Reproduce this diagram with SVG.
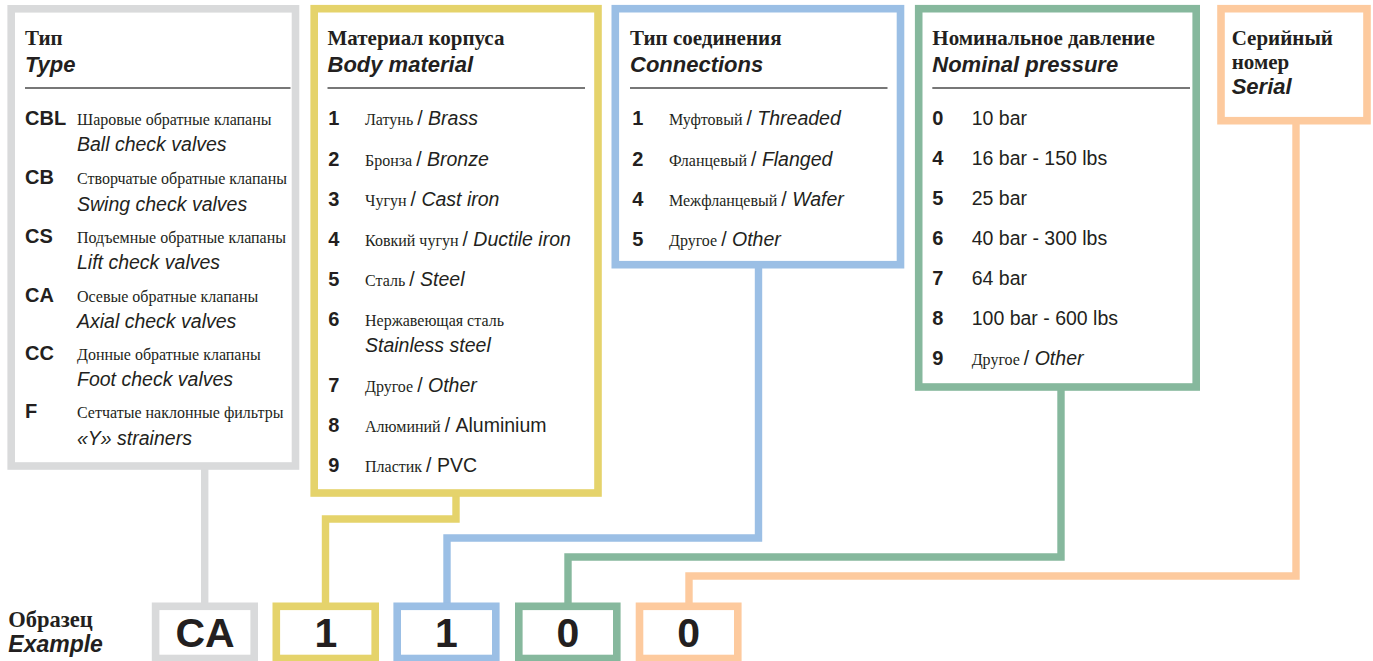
<svg xmlns="http://www.w3.org/2000/svg" width="1373" height="661" viewBox="0 0 1373 661">
<style>
text{fill:#231f20}
.ser{font-family:"Liberation Serif","Times New Roman",serif;font-size:16px}
.sn{font-family:"Liberation Sans",Arial,sans-serif;font-size:19.5px;font-style:normal}
.it{font-family:"Liberation Sans",Arial,sans-serif;font-size:19.5px;font-style:italic}
.code{font-family:"Liberation Sans",Arial,sans-serif;font-size:20px;font-weight:bold}
.h1{font-family:"Liberation Serif","Times New Roman",serif;font-size:21px;font-weight:bold}
.h2{font-family:"Liberation Sans",Arial,sans-serif;font-size:22px;font-weight:bold;font-style:italic}
.big{font-family:"Liberation Sans",Arial,sans-serif;font-size:41px;font-weight:bold;text-anchor:middle}
.box{fill:#fff;stroke-width:7.6}
.rule{stroke:#4a4a4a;stroke-width:1.5}
.con{fill:none;stroke-width:7.4;stroke-linejoin:miter}
.gray{stroke:#d9dadb}
.yel{stroke:#e5d36b}
.blu{stroke:#9bbfe5}
.grn{stroke:#86b89d}
.org{stroke:#fdca9e}
</style>

<g id="connectors">
<path class="con gray" d="M204.7 466V606"/>
<path class="con yel" d="M456 493V519H325.5V606"/>
<path class="con blu" d="M758.5 264.7V538H447V606"/>
<path class="con grn" d="M1061 387V557H568V606"/>
<path class="con org" d="M1296 120.7V576H689V606"/>
</g>

<g id="type">
<rect class="box gray" x="11.2" y="8.8" width="284.3" height="457.2"/>
<text class="h1" x="25" y="45">Тип</text>
<text class="h2" x="25" y="71.5">Type</text>
<line class="rule" x1="25" y1="88" x2="290.5" y2="88"/>
<text class="code" x="25" y="125">CBL</text>
<text class="ser" x="77" y="125">Шаровые обратные клапаны</text>
<text class="it" x="77" y="151">Ball check valves</text>
<text class="code" x="25" y="184">CB</text>
<text class="ser" x="77" y="184">Створчатые обратные клапаны</text>
<text class="it" x="77" y="210.5">Swing check valves</text>
<text class="code" x="25" y="242.7">CS</text>
<text class="ser" x="77" y="242.7">Подъемные обратные клапаны</text>
<text class="it" x="77" y="269.3">Lift check valves</text>
<text class="code" x="25" y="301.5">CA</text>
<text class="ser" x="77" y="301.5">Осевые обратные клапаны</text>
<text class="it" x="77" y="327.5">Axial check valves</text>
<text class="code" x="25" y="359.5">CC</text>
<text class="ser" x="77" y="359.5">Донные обратные клапаны</text>
<text class="it" x="77" y="386">Foot check valves</text>
<text class="code" x="25" y="418.3">F</text>
<text class="ser" x="77" y="418.3">Сетчатые наклонные фильтры</text>
<text class="it" x="77" y="445">«Y» strainers</text>
</g>

<g id="material">
<rect class="box yel" x="314.2" y="8.7" width="283.8" height="484.3"/>
<text class="h1" x="327.5" y="45">Материал корпуса</text>
<text class="h2" x="327.5" y="71.5">Body material</text>
<line class="rule" x1="327.5" y1="88" x2="585" y2="88"/>
<text class="code" x="328.3" y="125">1</text>
<text class="ser" x="365" y="125">Латунь <tspan class="sn">/ </tspan><tspan class="it">Brass</tspan></text>
<text class="code" x="328.3" y="165.5">2</text>
<text class="ser" x="365" y="165.5">Бронза <tspan class="sn">/ </tspan><tspan class="it">Bronze</tspan></text>
<text class="code" x="328.3" y="205.5">3</text>
<text class="ser" x="365" y="205.5">Чугун <tspan class="sn">/ </tspan><tspan class="it">Cast iron</tspan></text>
<text class="code" x="328.3" y="245.5">4</text>
<text class="ser" x="365" y="245.5">Ковкий чугун <tspan class="sn">/ </tspan><tspan class="it">Ductile iron</tspan></text>
<text class="code" x="328.3" y="286">5</text>
<text class="ser" x="365" y="286">Сталь <tspan class="sn">/ </tspan><tspan class="it">Steel</tspan></text>
<text class="code" x="328.3" y="325.5">6</text>
<text class="ser" x="365" y="325.5">Нержавеющая сталь</text>
<text class="it" x="365" y="351.5">Stainless steel</text>
<text class="code" x="328.3" y="391.5">7</text>
<text class="ser" x="365" y="391.5">Другое <tspan class="sn">/ </tspan><tspan class="it">Other</tspan></text>
<text class="code" x="328.3" y="431.5">8</text>
<text class="ser" x="365" y="431.5">Алюминий <tspan class="sn">/ Aluminium</tspan></text>
<text class="code" x="328.3" y="471.5">9</text>
<text class="ser" x="365" y="471.5">Пластик <tspan class="sn">/ PVC</tspan></text>
</g>

<g id="connections">
<rect class="box blu" x="615.3" y="8.7" width="285.2" height="256"/>
<text class="h1" x="630" y="45">Тип соединения</text>
<text class="h2" x="630" y="71.5">Connections</text>
<line class="rule" x1="630" y1="88" x2="887.5" y2="88"/>
<text class="code" x="632.3" y="125">1</text>
<text class="ser" x="669" y="125">Муфтовый <tspan class="sn">/ </tspan><tspan class="it">Threaded</tspan></text>
<text class="code" x="632.3" y="165.5">2</text>
<text class="ser" x="669" y="165.5">Фланцевый <tspan class="sn">/ </tspan><tspan class="it">Flanged</tspan></text>
<text class="code" x="632.3" y="205.5">4</text>
<text class="ser" x="669" y="205.5">Межфланцевый <tspan class="sn">/ </tspan><tspan class="it">Wafer</tspan></text>
<text class="code" x="632.3" y="245.5">5</text>
<text class="ser" x="669" y="245.5">Другое <tspan class="sn">/ </tspan><tspan class="it">Other</tspan></text>
</g>

<g id="pressure">
<rect class="box grn" x="918.7" y="8.7" width="277.5" height="378.3"/>
<text class="h1" x="932.3" y="45">Номинальное давление</text>
<text class="h2" x="932.3" y="71.5">Nominal pressure</text>
<line class="rule" x1="932.3" y1="88" x2="1190" y2="88"/>
<text class="code" x="932.3" y="125">0</text>
<text class="sn" x="971.7" y="125">10 bar</text>
<text class="code" x="932.3" y="165">4</text>
<text class="sn" x="971.7" y="165">16 bar - 150 lbs</text>
<text class="code" x="932.3" y="205">5</text>
<text class="sn" x="971.7" y="205">25 bar</text>
<text class="code" x="932.3" y="245">6</text>
<text class="sn" x="971.7" y="245">40 bar - 300 lbs</text>
<text class="code" x="932.3" y="285">7</text>
<text class="sn" x="971.7" y="285">64 bar</text>
<text class="code" x="932.3" y="325">8</text>
<text class="sn" x="971.7" y="325">100 bar - 600 lbs</text>
<text class="code" x="932.3" y="365">9</text>
<text class="ser" x="971.7" y="365">Другое <tspan class="sn">/ </tspan><tspan class="it">Other</tspan></text>
</g>

<g id="serial">
<rect class="box org" x="1221" y="8.7" width="146" height="112"/>
<text class="h1" x="1231.7" y="45">Серийный</text>
<text class="h1" x="1231.7" y="68.5">номер</text>
<text class="h2" x="1231.7" y="93.5">Serial</text>
</g>

<g id="example-label">
<text class="h1" x="8.3" y="626.7" style="font-size:22.5px">Образец</text>
<text class="h2" x="8.3" y="652" style="font-size:23px">Example</text>
</g>

<g id="ex-type">
<rect class="box gray" x="155.6" y="606.3" width="98.6" height="52.2"/>
<text class="big" x="205" y="646.7">CA</text>
</g>
<g id="ex-material">
<rect class="box yel" x="276.3" y="606.3" width="98.9" height="52.2"/>
<text class="big" x="325.8" y="646.7">1</text>
</g>
<g id="ex-connections">
<rect class="box blu" x="397.2" y="606.3" width="98.6" height="52.2"/>
<text class="big" x="446.5" y="646.7">1</text>
</g>
<g id="ex-pressure">
<rect class="box grn" x="518.8" y="606.3" width="98" height="52.2"/>
<text class="big" x="567.8" y="646.7">0</text>
</g>
<g id="ex-serial">
<rect class="box org" x="639.5" y="606.3" width="98.3" height="52.2"/>
<text class="big" x="688.7" y="646.7">0</text>
</g>
</svg>
